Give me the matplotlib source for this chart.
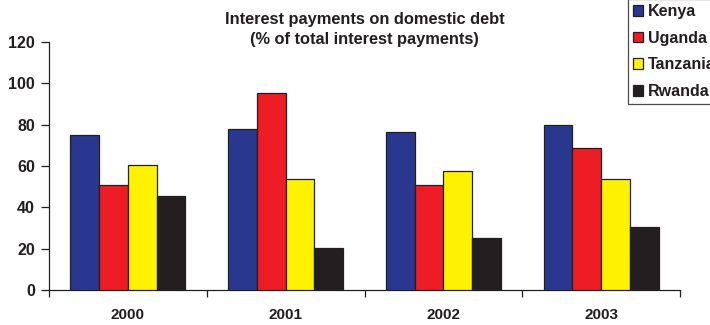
import matplotlib
matplotlib.use("Agg")
import matplotlib.pyplot as plt
import numpy as np

years = ["2000", "2001", "2002", "2003"]
countries = ["Kenya", "Uganda", "Tanzania", "Rwanda"]
kenya = [75, 78, 76.5, 80]
uganda = [51, 95.5, 51, 68.5]
tanzania = [60.5, 53.5, 57.5, 53.5]
rwanda = [45.5, 20.5, 25, 30.5]
colors = ["#29378F", "#EE1C25", "#FFF200", "#231F20"]
series = [kenya, uganda, tanzania, rwanda]
yticks = [0, 20, 40, 60, 80, 100, 120]

plt.rcParams['font.family'] = ['Liberation Sans', 'DejaVu Sans']
plt.rcParams['font.weight'] = 'bold'

fig = plt.figure(figsize=(7.1, 3.25), dpi=100)
ax = fig.add_axes([49/710, 1-290/325, (680-49)/710, (290-42)/325])

x = np.arange(len(years)) + 0.5
bw = 0.182
for i, (vals, c, name) in enumerate(zip(series, colors, countries)):
    ax.bar(x + (i - 1.5) * bw, vals, width=bw, color=c, edgecolor="#231F20",
           linewidth=0.9, label=name, zorder=3)

ax.set_xlim(0, 4)
ax.set_ylim(0, 120)
ax.set_yticks(yticks)
ax.set_yticklabels([str(v) for v in yticks], fontsize=11.5, fontweight='bold', color='#231F20')
ax.set_xticks(np.arange(0, 5))
ax.set_xticklabels([])
ax.set_xticks(x, minor=True)
ax.set_xticklabels(years, minor=True, fontsize=11, fontweight='bold', color='#231F20')
ax.tick_params(axis='x', which='minor', length=0, pad=13)
ax.tick_params(axis='x', which='major', direction='out', length=5, width=0.9, color='#231F20')
ax.tick_params(axis='y', direction='out', length=6, width=0.9, color='#231F20', pad=4)
for s in ['top', 'right']:
    ax.spines[s].set_visible(False)
for s in ['left', 'bottom']:
    ax.spines[s].set_color('#231F20')
    ax.spines[s].set_linewidth(0.9)

fig.text(364.5/710, 1-29.5/325, "Interest payments on domestic debt\n(% of total interest payments)",
         ha='center', va='center', fontsize=11.8, fontweight='bold', color='#231F20', linespacing=1.45)

leg = fig.legend(loc='upper left', bbox_to_anchor=(628/710, 1 + 1/325), fontsize=11.5,
                 frameon=True, fancybox=False, edgecolor='#231F20', handlelength=0.65,
                 handleheight=0.65, handletextpad=0.3, labelspacing=0.74, borderpad=0.3,
                 borderaxespad=0.0)
leg.get_frame().set_linewidth(0.9)
for t in leg.get_texts():
    t.set_fontweight('bold')
    t.set_color('#231F20')

fig.savefig("out.png", dpi=100)
